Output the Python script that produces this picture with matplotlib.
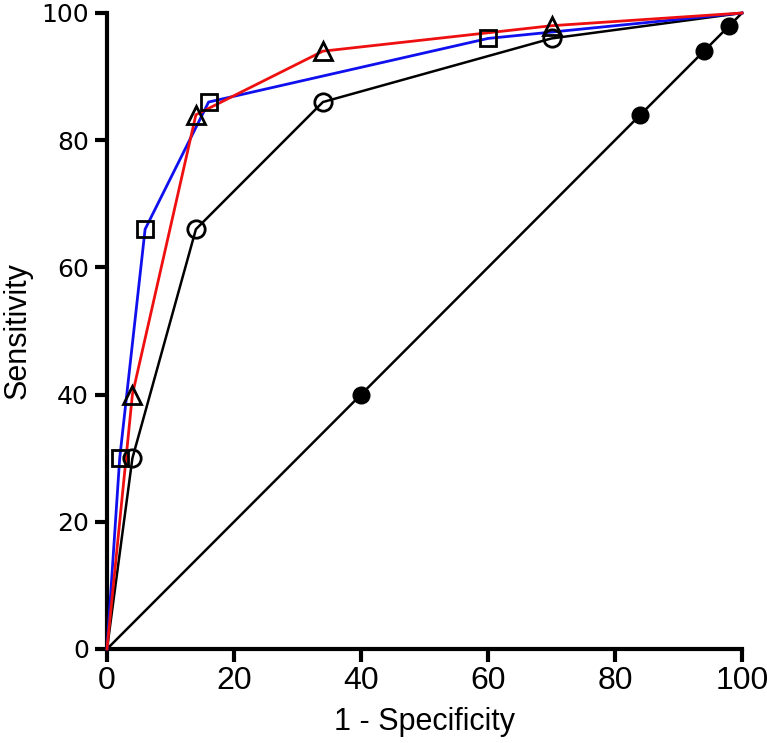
import matplotlib
matplotlib.use("Agg")
import matplotlib.pyplot as plt

# Data: 1 - Specificity (x) and Sensitivity (y), in percent
x_square = [0, 2, 6, 16, 60, 100]
y_square = [0, 30, 66, 86, 96, 100]

x_triangle = [0, 4, 14, 34, 70, 100]
y_triangle = [0, 40, 84, 94, 98, 100]

x_circle = [0, 4, 14, 34, 70, 100]
y_circle = [0, 30, 66, 86, 96, 100]

x_ref = [0, 40, 84, 94, 98, 100]
y_ref = [0, 40, 84, 94, 98, 100]

ticks = [0, 20, 40, 60, 80, 100]
tick_labels = ["0", "20", "40", "60", "80", "100"]

narrow = ["Liberation Sans", "DejaVu Sans"]
wide = ["DejaVu Sans"]

fig = plt.figure(figsize=(7.67, 7.43), dpi=100)
ax = fig.add_axes([107 / 767, 1 - 649 / 743, (742 - 107) / 767, (649 - 13) / 743])

ms = 12.5
mew = 2.0

# reference diagonal with filled circles (markers only at interior points)
ax.plot(x_ref, y_ref, color="black", lw=1.8, clip_on=False, zorder=2)
ax.plot(x_ref[1:-1], y_ref[1:-1], ls="none", marker="o", ms=12, color="black",
        clip_on=False, zorder=5)

# open circles, black line
ax.plot(x_circle, y_circle, color="black", lw=1.8, clip_on=False, zorder=2)
ax.plot(x_circle[1:-1], y_circle[1:-1], ls="none", marker="o", ms=ms,
        mfc="none", mec="black", mew=mew, clip_on=False, zorder=5)

# squares, blue line
ax.plot(x_square, y_square, color="#1010ee", lw=2.0, clip_on=False, zorder=3)
ax.plot(x_square[1:-1], y_square[1:-1], ls="none", marker="s", ms=ms - 0.5,
        mfc="none", mec="black", mew=mew, clip_on=False, zorder=5)

# triangles, red line
ax.plot(x_triangle, y_triangle, color="#ee1010", lw=2.0, clip_on=False, zorder=3)
ax.plot(x_triangle[1:-1], y_triangle[1:-1], ls="none", marker="^", ms=ms + 0.5,
        mfc="none", mec="black", mew=mew, clip_on=False, zorder=6)

ax.set_xlim(0, 100)
ax.set_ylim(0, 100)

for s in ["top", "right"]:
    ax.spines[s].set_visible(False)
for s in ["left", "bottom"]:
    ax.spines[s].set_linewidth(3)

ax.set_xticks(ticks)
ax.set_yticks(ticks)
ax.set_xticklabels(tick_labels, family=narrow, fontsize=23)
ax.set_yticklabels(tick_labels, family=wide, fontsize=18)
ax.tick_params(axis="both", direction="out", length=9, width=3, pad=4)
ax.tick_params(axis="x", pad=3)

ax.set_xlabel("1 - Specificity", family=narrow, fontsize=22, labelpad=8)
ax.set_ylabel("Sensitivity", family=narrow, fontsize=22, labelpad=6)

fig.savefig("out.png", dpi=100)
